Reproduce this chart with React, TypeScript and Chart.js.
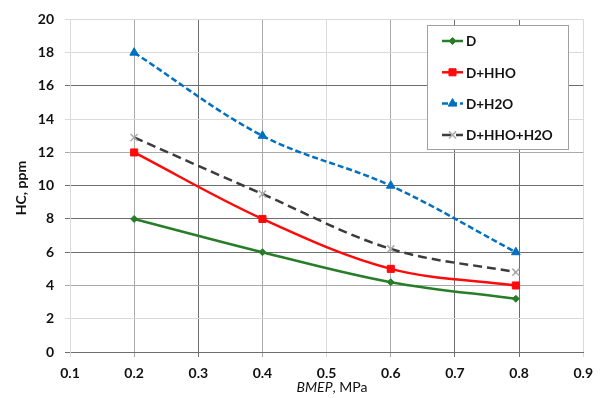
import React, { useEffect, useRef } from "react";
import { Chart, registerables } from "chart.js";
import { drawPoint } from "chart.js/helpers";
Chart.register(...registerables);

const bmep = [0.2, 0.4, 0.6, 0.795];
const hcD = [8, 6, 4.2, 3.2];
const hcHHO = [12, 8, 5, 4];
const hcH2O = [18, 13, 10, 6];
const hcHHOH2O = [12.9, 9.5, 6.2, 4.8];
const seriesNames = ["D", "D+HHO", "D+H2O", "D+HHO+H2O"];
const xMin = 0.1, xMax = 0.9, xStep = 0.1;
const yMin = 0, yMax = 20, yStep = 2;
const xAxisTitleItalic = "BMEP";
const xAxisTitleRest = ", MPa";
const yAxisTitle = "HC, ppm";

const DARK = "rgb(110,110,110)";
const MED = "rgb(170,170,170)";
const LIGHT = "rgb(218,218,218)";
const yGridShade: Record<string, string> = {
  "0": DARK, "2": LIGHT, "4": MED, "6": DARK, "8": DARK, "10": DARK,
  "12": MED, "14": LIGHT, "16": DARK, "18": LIGHT, "20": LIGHT,
};
const xGridShade: Record<string, string> = {
  "0.1": LIGHT, "0.2": MED, "0.3": DARK, "0.4": MED, "0.5": LIGHT,
  "0.6": MED, "0.7": DARK, "0.8": DARK, "0.9": LIGHT,
};

const FONT = "Lato, 'Open Sans', sans-serif";

const legendPlugin = {
  id: "customLegend",
  afterDraw(chart: any) {
    const ctx = chart.ctx as CanvasRenderingContext2D;
    ctx.save();
    const bx = 427, by = 25, bw = 141, bh = 124;
    ctx.fillStyle = "#fff";
    ctx.fillRect(bx, by, bw, bh);
    ctx.strokeStyle = "rgb(160,160,160)";
    ctx.lineWidth = 1;
    ctx.strokeRect(bx + 0.5, by + 0.5, bw, bh);
    chart.data.datasets.forEach((ds: any, i: number) => {
      const y = 41 + i * 31.3;
      ctx.save();
      ctx.strokeStyle = ds.borderColor;
      ctx.lineWidth = ds.borderWidth;
      ctx.setLineDash(ds.borderDash || []);
      ctx.beginPath();
      ctx.moveTo(442, y);
      ctx.lineTo(463, y);
      ctx.stroke();
      ctx.restore();
      ctx.save();
      ctx.fillStyle = ds.pointBackgroundColor;
      ctx.strokeStyle = ds.pointBorderColor;
      ctx.lineWidth = ds.pointBorderWidth;
      drawPoint(ctx, { pointStyle: ds.pointStyle, radius: ds.pointRadius, rotation: 0, borderWidth: ds.pointBorderWidth }, 452.5, y);
      ctx.restore();
      ctx.fillStyle = "#111";
      ctx.font = `bold 13.5px ${FONT}`;
      ctx.textBaseline = "middle";
      ctx.textAlign = "left";
      ctx.fillText(seriesNames[i], 466, y + 1);
    });
    // axis titles
    ctx.fillStyle = "#111";
    ctx.textBaseline = "middle";
    ctx.font = `italic 14px ${FONT}`;
    const w1 = ctx.measureText(xAxisTitleItalic).width;
    ctx.font = `14px ${FONT}`;
    const w2 = ctx.measureText(xAxisTitleRest).width;
    const sx = 332 - (w1 + w2) / 2;
    ctx.textAlign = "left";
    ctx.font = `italic 14px ${FONT}`;
    ctx.fillText(xAxisTitleItalic, sx, 387);
    ctx.font = `14px ${FONT}`;
    ctx.fillText(xAxisTitleRest, sx + w1, 387);
    ctx.save();
    ctx.translate(21, 188);
    ctx.rotate(-Math.PI / 2);
    ctx.textAlign = "center";
    ctx.font = `bold 14px ${FONT}`;
    ctx.fillText(yAxisTitle, 0, 0);
    ctx.restore();
    ctx.restore();
  },
};

export default function App() {
  const ref = useRef<HTMLCanvasElement | null>(null);
  useEffect(() => {
    document.body.style.margin = "0";
    const mk = (arr: number[]) => arr.map((v, i) => ({ x: bmep[i], y: v }));
    const chart = new Chart(ref.current!, {
      type: "line",
      data: {
        datasets: [
          {
            label: seriesNames[0], data: mk(hcD),
            borderColor: "rgb(40,125,40)", backgroundColor: "rgb(40,125,40)",
            borderWidth: 2.5, tension: 0.35,
            pointStyle: "rectRot", pointRadius: 3.5, pointBackgroundColor: "rgb(40,125,40)",
            pointBorderColor: "rgb(40,125,40)", pointBorderWidth: 1,
          },
          {
            label: seriesNames[1], data: mk(hcHHO),
            borderColor: "rgb(255,10,10)", backgroundColor: "rgb(255,10,10)",
            borderWidth: 2.5, tension: 0.35,
            pointStyle: "rect", pointRadius: 5, pointBackgroundColor: "rgb(255,10,10)",
            pointBorderColor: "rgb(255,10,10)", pointBorderWidth: 1,
          },
          {
            label: seriesNames[2], data: mk(hcH2O),
            borderColor: "rgb(0,112,192)", backgroundColor: "rgb(0,112,192)",
            borderWidth: 2.5, borderDash: [6, 3], tension: 0.35,
            pointStyle: "triangle", pointRadius: 5, pointBackgroundColor: "rgb(0,112,192)",
            pointBorderColor: "rgb(0,112,192)", pointBorderWidth: 1,
          },
          {
            label: seriesNames[3], data: mk(hcHHOH2O),
            borderColor: "rgb(60,60,60)", backgroundColor: "rgb(60,60,60)",
            borderWidth: 2.5, borderDash: [9, 5], tension: 0.35,
            pointStyle: "crossRot", pointRadius: 5, pointBackgroundColor: "rgb(170,170,170)",
            pointBorderColor: "rgb(170,170,170)", pointBorderWidth: 1.5,
          },
        ],
      },
      options: {
        animation: false,
        responsive: true,
        maintainAspectRatio: false,
        layout: { padding: { top: 18, right: 11, left: 0, bottom: 0 } },
        plugins: { legend: { display: false }, tooltip: { enabled: false } },
        scales: {
          x: {
            type: "linear", min: xMin, max: xMax,
            afterFit: (s: any) => { s.height = 46; },
            afterBuildTicks: (s: any) => {
              const t = [];
              for (let v = xMin; v <= xMax + 1e-9; v += xStep) t.push({ value: Math.round(v * 10) / 10 });
              s.ticks = t;
            },
            ticks: {
              color: "#111", padding: 8, maxRotation: 0,
              font: { family: FONT, weight: "bold", size: 14 },
              callback: (v: any) => Number(v).toFixed(1),
            },
            grid: {
              color: (c: any) => xGridShade[Number(c.tick?.value).toFixed(1)] || LIGHT,
              tickLength: 5, lineWidth: 1,
            },
            border: { color: DARK, width: 1 },
          },
          y: {
            min: yMin, max: yMax,
            afterFit: (s: any) => { s.width = 70; },
            ticks: {
              stepSize: yStep, color: "#111", padding: 11,
              font: { family: FONT, weight: "bold", size: 14 },
            },
            grid: {
              color: (c: any) => yGridShade[String(c.tick?.value)] || LIGHT,
              tickLength: 5, lineWidth: 1,
            },
            border: { color: LIGHT, width: 1 },
          },
        },
      },
      plugins: [legendPlugin],
    } as any);
    return () => chart.destroy();
  }, []);
  return (
    <div style={{ width: 601, height: 398, position: "relative" }}>
      <canvas ref={ref} />
    </div>
  );
}
